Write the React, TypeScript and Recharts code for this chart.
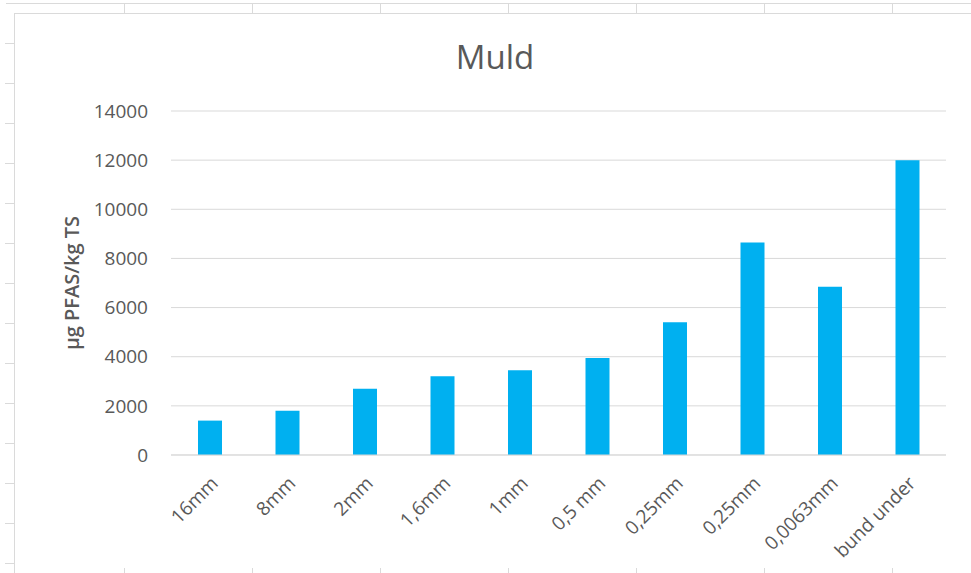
import { BarChart, Bar, XAxis, YAxis, CartesianGrid } from 'recharts'

const sieveSizes = ['16mm', '8mm', '2mm', '1,6mm', '1mm', '0,5 mm', '0,25mm', '0,25mm', '0,0063mm', 'bund under']
const pfasValues = [1400, 1800, 2700, 3200, 3450, 3950, 5400, 8650, 6850, 12000]
const yTicks = [0, 2000, 4000, 6000, 8000, 10000, 12000, 14000]

const data = sieveSizes.map((name, i) => ({ name, value: pfasValues[i] }))

const W = 971
const H = 573
const sheetLine = '#dadada'
const textGray = '#595959'

// worksheet cell borders around the embedded chart
function SheetBackdrop() {
  const cols = [124, 252, 380, 508, 636, 764, 892]
  const rows = Array.from({ length: 14 }, (_, i) => 43 + i * 40)
  return (
    <svg width={W} height={H} style={{ position: 'absolute', left: 0, top: 0 }}>
      <rect width={W} height={H} fill="#fff" />
      <line x1={6} y1={3.5} x2={W} y2={3.5} stroke={sheetLine} />
      {cols.map(x => (
        <line key={'t' + x} x1={x + 0.5} y1={3} x2={x + 0.5} y2={13} stroke={sheetLine} />
      ))}
      {cols.map(x => (
        <line key={'b' + x} x1={x + 0.5} y1={568} x2={x + 0.5} y2={H} stroke={sheetLine} />
      ))}
      {rows.map(y => (
        <line key={'r' + y} x1={5} y1={y + 0.5} x2={14} y2={y + 0.5} stroke={sheetLine} />
      ))}
      <line x1={14} y1={13.5} x2={W} y2={13.5} stroke={sheetLine} />
      <line x1={14.5} y1={13} x2={14.5} y2={H} stroke={sheetLine} />
      <text x={495} y={69} textAnchor="middle" fontSize={33} fill={textGray}>
        Muld
      </text>
    </svg>
  )
}

export default function App() {
  return (
    <div style={{ position: 'absolute', left: 0, top: 0, width: W, height: H, fontFamily: '"Open Sans", sans-serif' }}>
      <SheetBackdrop />
      <div style={{ position: 'absolute', left: 0, top: 0 }}>
        <BarChart width={W} height={H} data={data} margin={{ top: 111, right: 25, bottom: 0, left: 62 }}>
          <CartesianGrid stroke="#d9d9d9" vertical={false} />
          <XAxis
            dataKey="name"
            interval={0}
            angle={-45}
            textAnchor="end"
            height={118}
            tickLine={false}
            tickMargin={14}
            axisLine={{ stroke: '#d9d9d9' }}
            tick={{ fontSize: 19, fill: textGray }}
          />
          <YAxis
            width={109}
            domain={[0, 14000]}
            ticks={yTicks}
            interval={0}
            tickLine={false}
            axisLine={false}
            tickMargin={17}
            tick={{ fontSize: 19, fill: textGray }}
            label={{
              value: 'µg PFAS/kg TS',
              angle: -90,
              position: 'insideLeft',
              offset: 10,
              style: { textAnchor: 'middle', fontSize: 20, fontWeight: 600, fill: textGray },
            }}
          />
          <Bar dataKey="value" fill="#00B0F0" barSize={24} isAnimationActive={false} />
        </BarChart>
      </div>
    </div>
  )
}
